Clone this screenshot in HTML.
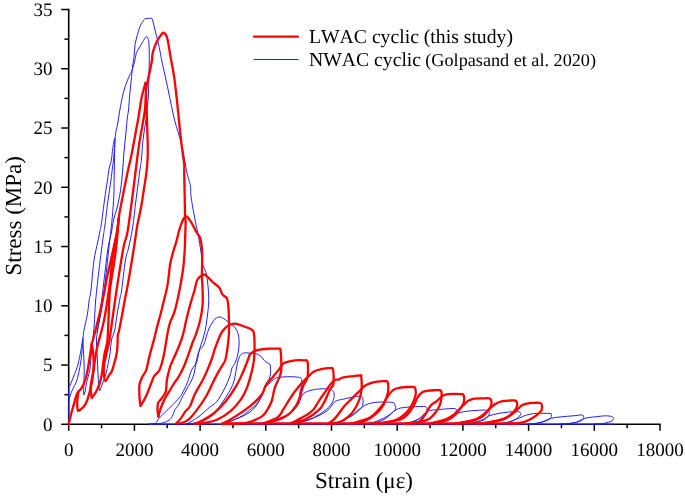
<!DOCTYPE html>
<html><head><meta charset="utf-8"><style>
html,body{margin:0;padding:0;background:#fff;}
svg{display:block;will-change:transform;}
text{font-kerning:none;text-rendering:geometricPrecision;}
.t{font-family:"Liberation Serif",serif;font-size:19px;fill:#000;}
.ax{font-family:"Liberation Serif",serif;font-size:23px;fill:#000;}
.lg{font-family:"Liberation Serif",serif;font-size:19.7px;fill:#000;}
</style></head><body>
<svg width="685" height="496" viewBox="0 0 685 496">
<line x1="68.70" y1="8.80" x2="68.70" y2="425.10" stroke="#000" stroke-width="1.6"/>
<line x1="67.90" y1="424.30" x2="660.70" y2="424.30" stroke="#000" stroke-width="1.6"/>
<line x1="61.20" y1="424.30" x2="68.70" y2="424.30" stroke="#000" stroke-width="1.5"/>
<text x="52.6" y="430.70" text-anchor="end" class="t">0</text>
<line x1="64.40" y1="394.67" x2="68.70" y2="394.67" stroke="#000" stroke-width="1.5"/>
<line x1="61.20" y1="365.04" x2="68.70" y2="365.04" stroke="#000" stroke-width="1.5"/>
<text x="52.6" y="371.44" text-anchor="end" class="t">5</text>
<line x1="64.40" y1="335.41" x2="68.70" y2="335.41" stroke="#000" stroke-width="1.5"/>
<line x1="61.20" y1="305.79" x2="68.70" y2="305.79" stroke="#000" stroke-width="1.5"/>
<text x="52.6" y="312.19" text-anchor="end" class="t">10</text>
<line x1="64.40" y1="276.16" x2="68.70" y2="276.16" stroke="#000" stroke-width="1.5"/>
<line x1="61.20" y1="246.53" x2="68.70" y2="246.53" stroke="#000" stroke-width="1.5"/>
<text x="52.6" y="252.93" text-anchor="end" class="t">15</text>
<line x1="64.40" y1="216.90" x2="68.70" y2="216.90" stroke="#000" stroke-width="1.5"/>
<line x1="61.20" y1="187.27" x2="68.70" y2="187.27" stroke="#000" stroke-width="1.5"/>
<text x="52.6" y="193.67" text-anchor="end" class="t">20</text>
<line x1="64.40" y1="157.64" x2="68.70" y2="157.64" stroke="#000" stroke-width="1.5"/>
<line x1="61.20" y1="128.01" x2="68.70" y2="128.01" stroke="#000" stroke-width="1.5"/>
<text x="52.6" y="134.41" text-anchor="end" class="t">25</text>
<line x1="64.40" y1="98.39" x2="68.70" y2="98.39" stroke="#000" stroke-width="1.5"/>
<line x1="61.20" y1="68.76" x2="68.70" y2="68.76" stroke="#000" stroke-width="1.5"/>
<text x="52.6" y="75.16" text-anchor="end" class="t">30</text>
<line x1="64.40" y1="39.13" x2="68.70" y2="39.13" stroke="#000" stroke-width="1.5"/>
<line x1="61.20" y1="9.50" x2="68.70" y2="9.50" stroke="#000" stroke-width="1.5"/>
<text x="52.6" y="15.90" text-anchor="end" class="t">35</text>
<line x1="68.70" y1="424.30" x2="68.70" y2="430.80" stroke="#000" stroke-width="1.5"/>
<text x="68.70" y="455.7" text-anchor="middle" class="t">0</text>
<line x1="101.55" y1="424.30" x2="101.55" y2="428.30" stroke="#000" stroke-width="1.5"/>
<line x1="134.40" y1="424.30" x2="134.40" y2="430.80" stroke="#000" stroke-width="1.5"/>
<text x="134.40" y="455.7" text-anchor="middle" class="t">2000</text>
<line x1="167.25" y1="424.30" x2="167.25" y2="428.30" stroke="#000" stroke-width="1.5"/>
<line x1="200.10" y1="424.30" x2="200.10" y2="430.80" stroke="#000" stroke-width="1.5"/>
<text x="200.10" y="455.7" text-anchor="middle" class="t">4000</text>
<line x1="232.95" y1="424.30" x2="232.95" y2="428.30" stroke="#000" stroke-width="1.5"/>
<line x1="265.80" y1="424.30" x2="265.80" y2="430.80" stroke="#000" stroke-width="1.5"/>
<text x="265.80" y="455.7" text-anchor="middle" class="t">6000</text>
<line x1="298.65" y1="424.30" x2="298.65" y2="428.30" stroke="#000" stroke-width="1.5"/>
<line x1="331.50" y1="424.30" x2="331.50" y2="430.80" stroke="#000" stroke-width="1.5"/>
<text x="331.50" y="455.7" text-anchor="middle" class="t">8000</text>
<line x1="364.35" y1="424.30" x2="364.35" y2="428.30" stroke="#000" stroke-width="1.5"/>
<line x1="397.20" y1="424.30" x2="397.20" y2="430.80" stroke="#000" stroke-width="1.5"/>
<text x="397.20" y="455.7" text-anchor="middle" class="t">10000</text>
<line x1="430.05" y1="424.30" x2="430.05" y2="428.30" stroke="#000" stroke-width="1.5"/>
<line x1="462.90" y1="424.30" x2="462.90" y2="430.80" stroke="#000" stroke-width="1.5"/>
<text x="462.90" y="455.7" text-anchor="middle" class="t">12000</text>
<line x1="495.75" y1="424.30" x2="495.75" y2="428.30" stroke="#000" stroke-width="1.5"/>
<line x1="528.60" y1="424.30" x2="528.60" y2="430.80" stroke="#000" stroke-width="1.5"/>
<text x="528.60" y="455.7" text-anchor="middle" class="t">14000</text>
<line x1="561.45" y1="424.30" x2="561.45" y2="428.30" stroke="#000" stroke-width="1.5"/>
<line x1="594.30" y1="424.30" x2="594.30" y2="430.80" stroke="#000" stroke-width="1.5"/>
<text x="594.30" y="455.7" text-anchor="middle" class="t">16000</text>
<line x1="627.15" y1="424.30" x2="627.15" y2="428.30" stroke="#000" stroke-width="1.5"/>
<line x1="660.00" y1="424.30" x2="660.00" y2="430.80" stroke="#000" stroke-width="1.5"/>
<text x="660.00" y="455.7" text-anchor="middle" class="t">18000</text>
<text x="364" y="487.7" text-anchor="middle" class="ax">Strain (&#956;&#949;)</text>
<text transform="translate(20.6,215.8) rotate(-90)" x="0" y="0" text-anchor="middle" class="ax">Stress (MPa)</text>
<line x1="254.0" y1="36.7" x2="298.0" y2="36.7" stroke="#f00" stroke-width="2.3" stroke-linecap="round"/>
<line x1="253.5" y1="59.5" x2="298.6" y2="59.5" stroke="#2020f4" stroke-width="1"/>
<text x="309" y="43.4" class="lg">LWAC cyclic (this study)</text>
<text x="309" y="65.6" class="lg">NWAC cyclic <tspan x="425.3" font-size="18.2px">(Golpasand et al. 2020)</tspan></text>
<g fill="none" stroke="#2020f4" stroke-width="1.0" stroke-linejoin="round" stroke-linecap="round">
<path d="M68.7,424.3 C68.7,421.1 68.8,411.0 68.8,405.0 C68.8,399.0 68.6,391.6 68.8,388.4 C69.0,385.1 69.3,387.2 70.0,385.5 C70.7,383.8 72.0,380.5 73.0,378.0 C74.0,375.5 75.2,372.9 76.1,370.4 C77.0,367.9 77.5,365.8 78.3,362.8 C79.0,359.8 80.0,355.5 80.6,352.2 C81.2,348.9 81.7,345.3 82.1,343.0 C82.5,340.7 82.7,340.3 82.9,338.6 C83.2,336.9 83.2,334.9 83.6,332.6 C84.0,330.3 84.4,328.3 85.1,325.0 C85.8,321.7 86.9,317.2 87.6,313.0 C88.3,308.8 88.6,303.8 89.2,300.0 C89.8,296.2 90.2,296.5 91.0,290.0 C91.8,283.5 92.8,268.8 93.9,261.0 C95.0,253.2 96.5,247.8 97.5,243.0 C98.5,238.2 99.2,235.0 99.8,232.0 C100.4,229.0 100.4,230.3 101.2,225.0 C102.0,219.7 103.5,207.5 104.5,200.0 C105.5,192.5 106.7,185.3 107.5,180.0 C108.3,174.7 108.5,171.3 109.2,168.0 C109.9,164.7 110.8,163.2 111.4,160.0 C112.0,156.8 112.1,152.2 112.7,148.6 C113.3,144.9 114.5,137.9 114.8,138.1 C115.1,138.3 114.7,145.5 114.6,150.0 C114.5,154.5 114.5,160.0 114.4,165.0 C114.3,170.0 114.2,175.0 114.1,180.0 C114.0,185.0 114.2,188.3 113.9,195.0 C113.6,201.7 112.7,212.5 112.0,220.0 C111.3,227.5 110.7,231.7 109.8,240.0 C108.9,248.3 107.6,260.0 106.5,270.0 C105.4,280.0 104.2,292.0 103.1,300.0 C102.0,308.0 101.0,312.7 100.0,318.0 C99.0,323.3 97.5,329.7 97.0,332.0"/>
<path d="M68.8,401.1 C69.0,400.2 69.3,398.1 70.0,396.0 C70.7,393.9 72.0,390.8 73.0,388.5 C74.0,386.2 75.2,384.8 76.1,382.5 C77.0,380.2 77.7,377.5 78.3,375.0 C78.9,372.5 79.3,370.2 79.8,367.4 C80.3,364.6 80.9,361.5 81.3,358.3 C81.7,355.1 81.9,351.3 82.2,348.0 C82.5,344.7 82.8,340.2 82.9,338.6"/>
<path d="M82.9,338.6 C83.0,340.5 83.2,346.1 83.4,350.0 C83.6,353.9 83.9,358.3 84.0,362.0 C84.1,365.7 84.2,368.2 84.2,372.0 C84.2,375.8 84.0,381.2 83.9,385.0 C83.8,388.8 83.4,393.5 83.6,394.6 C83.8,395.7 84.6,393.6 85.1,391.6 C85.6,389.6 85.8,386.0 86.6,382.5 C87.4,379.0 88.9,374.9 89.7,370.4 C90.5,365.9 90.7,360.4 91.2,355.3 C91.7,350.2 92.2,345.2 92.7,340.1 C93.2,335.1 93.7,331.7 94.2,325.0 C94.7,318.3 94.9,309.2 95.7,300.0 C96.5,290.8 98.0,278.3 99.0,270.0 C100.0,261.7 100.8,255.8 101.5,250.0 C102.2,244.2 102.9,239.2 103.5,235.0 C104.1,230.8 104.2,230.8 105.0,225.0 C105.8,219.2 107.0,207.5 108.0,200.0 C109.0,192.5 110.3,185.3 111.0,180.0 C111.7,174.7 112.0,171.3 112.4,168.0 C112.8,164.7 113.2,163.3 113.5,160.0 C113.8,156.7 114.2,152.4 114.5,148.0 C114.8,143.6 115.1,137.2 115.6,133.4 C116.1,129.6 116.7,129.0 117.4,125.2 C118.1,121.4 119.0,114.8 119.7,110.8 C120.4,106.8 120.9,104.0 121.5,101.0 C122.1,98.0 122.7,95.3 123.4,92.7 C124.1,90.1 124.7,87.8 125.5,85.5 C126.3,83.2 127.2,80.8 128.0,79.0 C128.8,77.2 129.3,76.0 130.0,74.5 C130.7,73.0 131.4,72.1 132.2,70.0 C132.9,67.9 133.8,64.8 134.5,62.0 C135.2,59.2 135.6,55.6 136.3,53.4 C137.0,51.2 137.8,50.4 138.5,49.0 C139.2,47.6 140.0,46.5 140.8,45.1 C141.6,43.7 142.6,41.9 143.5,40.5 C144.4,39.1 145.7,36.8 146.4,36.5 C147.2,36.2 147.6,37.5 148.0,38.5 C148.4,39.5 148.7,39.5 148.9,42.7 C149.1,45.9 149.3,52.7 149.3,57.6 C149.3,62.5 149.2,65.8 149.0,72.0 C148.8,78.2 148.7,89.3 148.4,95.1 C148.1,100.9 147.7,102.8 147.3,106.8 C146.9,110.8 146.7,114.0 146.0,119.4 C145.3,124.8 143.9,132.4 143.1,139.2 C142.3,146.0 141.9,155.2 141.4,160.0 C140.9,164.8 141.1,161.3 140.2,168.0 C139.3,174.7 137.3,190.0 136.0,200.0 C134.7,210.0 133.8,220.0 132.6,228.0 C131.3,236.0 129.7,242.5 128.5,248.0 C127.3,253.5 126.4,254.0 125.3,261.0 C124.2,268.0 122.5,284.0 121.7,290.0 C120.9,296.0 121.0,292.8 120.2,297.0 C119.4,301.2 117.9,309.5 117.0,315.0 C116.1,320.5 115.7,325.8 114.8,330.0 C113.9,334.2 112.3,336.1 111.5,340.0 C110.7,343.9 110.6,349.2 110.1,353.1 C109.5,357.0 108.8,360.3 108.2,363.6 C107.6,366.9 106.9,370.2 106.2,372.8 C105.5,375.4 105.0,377.1 104.2,379.3 C103.4,381.5 102.3,384.0 101.6,385.9 C100.8,387.8 100.2,391.6 99.7,390.5 C99.2,389.4 98.6,383.4 98.3,379.3 C98.0,375.2 97.9,370.6 97.7,366.2 C97.5,361.8 97.2,357.5 97.0,353.1 C96.8,348.7 96.3,343.9 96.4,340.0 C96.5,336.1 97.0,335.0 97.7,330.0 C98.4,325.0 99.5,317.5 100.5,310.0 C101.5,302.5 102.5,293.2 103.5,285.0 C104.5,276.8 105.5,267.7 106.3,261.0 C107.1,254.3 107.6,249.8 108.5,245.0 C109.4,240.2 110.7,236.2 111.5,232.0 C112.3,227.8 112.7,223.7 113.5,220.0 C114.3,216.3 115.6,213.3 116.5,210.0 C117.4,206.7 118.1,203.3 118.8,200.0 C119.5,196.7 120.0,194.1 120.5,190.4 C121.0,186.7 121.6,182.1 122.0,178.0 C122.4,173.9 122.7,170.0 123.0,166.0 C123.3,162.0 123.5,158.0 123.8,154.0 C124.1,150.0 124.6,146.0 125.0,142.0 C125.4,138.0 125.8,134.0 126.2,130.0 C126.6,126.0 126.9,121.3 127.3,118.0 C127.7,114.7 128.1,113.8 128.5,110.0 C128.9,106.2 129.2,100.5 129.7,95.1 C130.2,89.7 131.0,82.3 131.5,77.5 C132.0,72.7 132.2,69.5 132.6,66.0 C133.0,62.5 133.7,60.0 134.1,56.4 C134.5,52.8 134.5,48.0 135.1,44.3 C135.7,40.6 136.8,37.2 137.6,34.2 C138.4,31.2 139.3,28.2 140.2,26.1 C141.0,24.0 141.9,22.8 142.7,21.6 C143.4,20.4 144.0,19.6 144.7,19.1 C145.4,18.6 146.1,18.5 147.0,18.4 C147.9,18.3 149.2,18.3 150.0,18.3 C150.8,18.3 151.4,18.2 151.8,18.4 C152.2,18.6 152.0,18.1 152.4,19.5 C152.8,20.9 153.7,24.5 154.3,27.1 C155.0,29.7 155.6,32.2 156.3,35.2 C157.1,38.2 158.1,42.2 158.8,45.3 C159.5,48.4 160.1,51.8 160.5,54.0 C160.9,56.2 160.7,55.4 161.3,58.4 C161.9,61.4 163.0,66.1 164.2,71.7 C165.4,77.3 166.9,83.9 168.6,92.0 C170.3,100.1 172.4,111.3 174.6,120.1 C176.8,128.9 179.6,135.9 181.6,144.6 C183.6,153.2 185.3,165.1 186.8,172.0 C188.3,178.9 189.7,181.5 190.4,185.8 C191.1,190.2 190.3,192.0 191.2,198.1 C192.1,204.2 194.4,216.5 195.6,222.6 C196.8,228.7 197.3,230.0 198.2,234.9 C199.1,239.8 200.3,247.2 201.0,252.0 C201.7,256.9 201.8,260.5 202.6,264.0 C203.4,267.5 205.2,269.3 206.1,272.8 C207.0,276.3 207.4,280.7 207.9,285.1 C208.4,289.5 208.8,294.7 208.8,299.1 C208.8,303.5 208.4,307.0 207.9,311.4 C207.4,315.8 206.8,321.1 206.1,325.4 C205.4,329.7 204.7,332.7 203.5,337.0 C202.3,341.3 200.1,346.8 199.0,351.0 C197.9,355.2 198.0,358.9 196.8,362.0 C195.6,365.1 193.3,366.2 191.7,369.7 C190.1,373.2 189.0,378.7 187.3,382.8 C185.6,386.9 183.4,391.4 181.5,394.5 C179.6,397.6 178.5,398.6 176.0,401.4 C173.5,404.2 169.1,408.3 166.3,411.1 C163.5,413.9 160.8,416.4 159.0,418.4 C157.2,420.4 157.0,422.3 155.4,423.2 C153.8,424.1 150.3,423.9 149.3,424.0"/>
<path d="M149.3,424.0 C151.3,423.9 158.0,423.9 161.4,423.2 C164.8,422.5 167.9,421.2 169.9,419.6 C171.9,418.0 172.7,415.1 173.5,413.5 C174.3,411.9 173.9,411.3 174.7,409.9 C175.5,408.5 177.0,407.5 178.4,405.1 C179.8,402.7 181.6,398.4 183.2,395.4 C184.8,392.4 186.6,389.5 188.0,386.9 C189.4,384.3 190.6,382.5 191.7,380.0 C192.8,377.5 193.8,375.0 194.5,372.0 C195.2,369.0 195.3,365.4 196.1,362.0 C196.8,358.6 197.8,354.1 199.0,351.3 C200.2,348.6 202.2,347.9 203.4,345.5 C204.6,343.1 205.3,339.6 206.3,336.7 C207.3,333.8 207.8,330.9 209.2,328.0 C210.6,325.1 213.2,321.0 215.0,319.2 C216.8,317.4 218.2,316.8 220.1,317.0 C222.0,317.2 224.4,319.1 226.7,320.7 C229.0,322.3 232.2,324.6 234.0,326.5 C235.8,328.4 236.8,329.9 237.7,332.3 C238.5,334.7 239.0,337.9 239.1,341.1 C239.2,344.3 239.0,347.8 238.4,351.3 C237.8,354.8 236.6,359.2 235.5,362.0 C234.4,364.8 233.0,365.5 232.0,368.0 C231.0,370.5 231.0,373.3 229.6,377.0 C228.2,380.7 226.0,386.0 223.8,390.1 C221.6,394.2 218.9,398.9 216.5,401.8 C214.1,404.7 212.1,405.2 209.2,407.6 C206.3,410.0 202.2,414.0 199.0,416.4 C195.8,418.8 192.4,420.9 190.2,422.2 C188.0,423.5 186.5,423.7 185.8,424.0"/>
<path d="M185.8,424.0 C187.3,423.8 192.1,423.5 195.0,423.0 C197.9,422.5 200.5,422.0 203.0,421.0 C205.5,420.0 207.8,418.7 210.0,417.0 C212.2,415.3 214.0,413.3 216.0,411.0 C218.0,408.7 219.8,406.2 222.0,403.0 C224.2,399.8 227.0,395.7 229.0,392.0 C231.0,388.3 232.6,386.0 234.0,381.0 C235.4,376.0 236.5,366.5 237.7,362.0 C238.9,357.5 239.9,355.7 241.3,354.2 C242.8,352.7 244.6,352.9 246.4,352.8 C248.2,352.7 250.2,353.3 252.0,353.5 C253.8,353.7 255.8,353.6 257.4,354.2 C259.0,354.8 260.6,356.1 261.8,357.2 C263.0,358.3 263.5,359.8 264.4,360.7 C265.3,361.6 266.3,362.1 267.3,362.8 C268.3,363.5 269.7,363.2 270.2,365.0 C270.7,366.8 270.7,371.4 270.5,373.8 C270.3,376.2 269.6,377.9 268.8,379.6 C268.0,381.3 266.7,382.3 265.8,384.0 C264.9,385.7 264.3,387.9 263.6,389.9 C262.9,391.9 263.1,393.5 261.8,396.0 C260.5,398.5 258.3,402.0 255.9,404.7 C253.5,407.4 249.6,410.1 247.2,412.0 C244.8,413.9 244.0,414.9 241.3,416.4 C238.6,417.9 234.0,419.5 231.1,420.8 C228.2,422.1 225.0,423.5 223.8,424.0"/>
<path d="M223.8,424.0 C225.8,423.2 231.1,421.3 235.5,419.3 C239.9,417.3 246.2,414.9 250.1,412.0 C254.0,409.1 256.4,405.7 258.8,401.8 C261.2,397.9 263.0,391.7 264.7,388.7 C266.4,385.7 267.1,385.6 268.8,384.0 C270.5,382.4 272.9,380.0 274.6,378.9 C276.3,377.8 276.6,377.8 279.0,377.4 C281.4,377.0 285.8,376.7 289.2,376.7 C292.6,376.7 297.3,376.9 299.4,377.4 C301.5,377.9 301.2,378.2 301.6,379.6 C302.0,381.0 301.9,383.6 301.6,385.5 C301.4,387.4 300.6,388.9 300.1,391.3 C299.6,393.7 299.6,397.1 298.6,399.9 C297.6,402.7 295.5,405.7 293.9,408.0 C292.3,410.3 291.5,412.2 289.2,413.9 C286.9,415.6 283.1,416.7 279.9,418.0 C276.7,419.3 273.0,420.5 270.0,421.5 C267.0,422.5 263.3,423.6 262.0,424.0"/>
<path d="M262.0,424.0 C263.3,423.8 267.0,423.2 270.0,422.5 C273.0,421.8 276.7,420.8 279.9,419.5 C283.1,418.2 286.8,416.1 289.2,414.5 C291.6,412.9 292.4,411.8 294.0,410.0 C295.6,408.2 297.1,406.7 298.6,404.0 C300.1,401.3 300.9,396.4 303.2,394.0 C305.5,391.6 308.9,390.8 312.6,389.9 C316.3,389.0 322.1,388.7 325.4,388.8 C328.7,388.9 330.9,389.4 332.4,390.5 C333.9,391.6 334.2,393.2 334.2,395.2 C334.2,397.1 333.7,399.9 332.4,402.2 C331.1,404.5 328.9,407.1 326.6,409.2 C324.3,411.3 321.3,413.2 318.4,415.0 C315.5,416.8 312.4,418.4 309.1,419.7 C305.8,421.0 301.8,421.9 298.6,422.6 C295.4,423.3 291.4,423.8 290.0,424.0"/>
<path d="M290.0,424.0 C292.5,423.5 300.3,422.3 305.0,421.0 C309.7,419.7 314.2,417.8 318.0,416.0 C321.8,414.2 325.2,412.4 328.0,410.0 C330.8,407.6 332.6,403.4 335.0,401.6 C337.4,399.8 339.9,400.0 342.3,399.4 C344.7,398.8 346.9,398.2 349.6,397.7 C352.3,397.2 356.3,396.4 358.4,396.2 C360.5,396.0 361.2,396.0 362.0,396.5 C362.8,397.0 362.9,397.9 363.0,399.4 C363.1,400.9 363.2,403.6 362.7,405.3 C362.2,407.0 361.5,407.9 359.8,409.6 C358.1,411.3 355.2,413.8 352.5,415.5 C349.8,417.2 346.2,418.7 343.8,419.9 C341.4,421.1 340.2,422.1 337.9,422.8 C335.6,423.5 331.3,423.8 330.0,424.0"/>
<path d="M337.9,422.8 C339.8,421.8 346.4,418.8 349.6,416.9 C352.8,414.9 354.7,412.8 356.9,411.1 C359.1,409.4 360.8,407.9 362.7,406.7 C364.6,405.5 366.4,404.5 368.6,403.8 C370.8,403.1 373.2,402.6 375.9,402.3 C378.6,402.0 381.7,401.9 384.6,402.0 C387.5,402.1 391.7,402.1 393.4,402.6 C395.1,403.2 394.5,404.2 394.9,405.3 C395.3,406.4 396.3,407.4 395.6,408.9 C394.9,410.3 392.6,412.4 390.5,414.0 C388.4,415.6 385.9,417.1 383.2,418.4 C380.5,419.7 377.3,421.1 374.4,422.0 C371.5,422.9 367.4,423.7 366.0,424.0"/>
<path d="M374.4,423.0 C376.2,422.3 381.4,421.2 385.0,419.0 C388.6,416.8 392.9,411.5 396.3,409.6 C399.7,407.7 401.9,407.9 405.1,407.4 C408.3,406.9 411.9,406.8 415.3,406.7 C418.7,406.6 423.6,406.2 425.5,406.7 C427.4,407.2 427.0,408.6 427.0,409.6 C427.0,410.6 426.7,411.1 425.5,412.6 C424.3,414.1 422.1,416.8 419.7,418.4 C417.3,420.0 413.8,421.1 410.9,422.0 C407.9,422.9 403.5,423.7 402.0,424.0"/>
<path d="M410.0,423.2 C411.7,422.3 417.2,419.9 420.0,418.0 C422.8,416.1 424.9,413.1 427.0,411.8 C429.1,410.5 429.7,410.6 432.3,410.2 C434.9,409.8 438.9,409.5 442.5,409.2 C446.1,408.9 451.9,408.4 454.2,408.5 C456.5,408.6 456.1,409.4 456.4,410.0 C456.6,410.6 456.5,410.9 455.7,412.1 C454.9,413.3 453.2,415.8 451.3,417.3 C449.4,418.8 446.4,420.0 444.0,420.9 C441.6,421.8 439.4,422.3 436.7,422.8 C434.0,423.3 429.4,423.8 428.0,424.0"/>
<path d="M436.7,423.5 C438.2,423.0 443.6,421.3 446.0,420.5 C448.4,419.7 449.4,419.8 451.3,418.7 C453.2,417.6 454.7,414.8 457.1,413.6 C459.5,412.4 462.7,411.9 465.9,411.4 C469.1,410.9 472.7,410.6 476.1,410.4 C479.5,410.2 484.1,409.9 486.3,410.2 C488.5,410.5 488.8,411.2 489.2,412.1 C489.6,413.0 489.5,414.5 488.5,415.8 C487.5,417.1 485.9,419.1 483.4,420.2 C480.8,421.3 476.4,421.8 473.2,422.4 C470.0,423.0 465.5,423.7 464.0,424.0"/>
<path d="M473.2,423.2 C474.8,422.6 480.3,420.7 483.0,419.5 C485.7,418.3 486.7,416.8 489.2,415.8 C491.7,414.8 494.8,414.2 498.0,413.6 C501.2,413.0 504.8,412.4 508.2,412.1 C511.6,411.8 516.3,411.4 518.4,411.7 C520.5,411.9 520.4,412.9 520.6,413.6 C520.9,414.3 521.0,414.7 519.9,415.8 C518.8,416.9 516.5,419.0 514.1,420.2 C511.7,421.4 508.3,422.2 505.3,422.8 C502.3,423.4 497.6,423.8 496.0,424.0"/>
<path d="M505.3,423.3 C506.6,422.8 510.6,421.4 513.0,420.5 C515.4,419.6 517.1,418.9 519.4,418.0 C521.7,417.1 523.8,415.8 526.7,415.0 C529.6,414.2 533.0,413.5 536.9,413.3 C540.8,413.1 547.6,413.3 550.0,413.6 C552.4,413.9 551.5,414.1 551.5,415.0 C551.5,415.9 551.2,417.6 550.0,418.7 C548.8,419.8 546.4,420.9 544.2,421.6 C542.0,422.3 539.6,422.7 536.9,423.1 C534.2,423.5 529.5,423.9 528.0,424.0"/>
<path d="M536.9,423.5 C537.9,423.2 540.3,422.5 542.7,421.6 C545.1,420.7 548.3,419.0 551.5,418.2 C554.7,417.4 558.1,417.2 561.7,416.8 C565.4,416.4 570.0,416.1 573.4,415.8 C576.8,415.5 580.5,414.8 582.2,415.0 C583.9,415.2 583.6,416.3 583.6,417.2 C583.6,418.1 583.4,419.2 582.2,420.1 C581.0,421.0 578.5,421.8 576.3,422.3 C574.1,422.9 571.7,423.1 569.0,423.4 C566.3,423.7 561.5,423.9 560.0,424.0"/>
<path d="M569.0,423.6 C570.2,423.4 573.6,423.2 576.3,422.3 C579.0,421.4 581.9,419.1 585.1,418.2 C588.3,417.3 591.9,417.2 595.3,416.8 C598.7,416.4 602.8,415.9 605.5,415.8 C608.2,415.8 610.1,416.1 611.4,416.5 C612.7,416.9 613.4,417.5 613.5,418.2 C613.6,418.9 613.2,420.2 612.1,420.9 C611.0,421.6 608.6,422.2 607.0,422.6 C605.4,423.0 604.8,423.3 602.6,423.5 C600.4,423.7 595.4,423.9 594.0,424.0"/>
<path d="M149.3,424.2 L614.0,424.2"/>
</g>
<g fill="none" stroke="#ff0000" stroke-width="2.3" stroke-linejoin="round" stroke-linecap="round">
<path d="M68.7,424.3 C69.1,422.5 70.3,417.1 71.3,413.3 C72.3,409.5 73.8,404.4 74.7,401.3 C75.6,398.2 76.0,396.4 76.7,394.7 C77.4,393.0 78.0,392.2 78.7,391.3 C79.4,390.4 79.9,390.4 80.7,389.3 C81.5,388.2 82.4,386.7 83.3,384.7 C84.2,382.7 85.2,380.1 86.0,377.3 C86.8,374.5 87.5,370.9 88.0,368.0 C88.5,365.1 88.9,362.7 89.3,360.0 C89.7,357.3 90.1,354.7 90.5,352.0 C90.9,349.3 91.5,345.3 91.7,344.0"/>
<path d="M78.4,392.0 C78.2,393.3 77.6,397.6 77.4,400.0 C77.2,402.4 77.2,404.9 77.3,406.7 C77.4,408.5 77.4,410.3 78.0,410.7 C78.6,411.1 79.6,410.2 80.7,409.3 C81.8,408.4 83.6,406.9 84.7,405.3 C85.8,403.8 86.5,402.0 87.3,400.0 C88.1,398.0 88.6,395.8 89.3,393.3 C90.0,390.9 90.7,388.0 91.3,385.3 C91.9,382.6 92.3,380.2 92.7,377.3 C93.1,374.4 93.4,371.2 93.6,368.0 C93.8,364.8 93.7,361.0 93.6,358.0 C93.5,355.0 93.1,352.3 92.8,350.0 C92.5,347.7 91.9,345.0 91.7,344.0"/>
<path d="M91.7,344.0 C92.1,342.7 93.1,339.3 94.0,336.0 C94.9,332.7 96.0,328.0 97.0,324.0 C98.0,320.0 99.1,316.0 100.0,312.0 C100.9,308.0 101.8,303.7 102.6,300.0 C103.4,296.3 103.9,294.2 104.7,290.0 C105.5,285.8 106.5,279.8 107.5,275.0 C108.5,270.2 109.6,265.8 110.7,261.0 C111.8,256.2 113.0,250.8 114.0,246.0 C115.0,241.2 116.2,236.6 117.0,232.0 C117.8,227.4 118.4,220.7 118.7,218.4"/>
<path d="M118.7,218.4 C118.5,220.7 117.9,227.4 117.2,232.0 C116.5,236.6 115.6,241.2 114.8,246.0 C114.0,250.8 113.0,255.3 112.2,261.0 C111.4,266.7 111.0,273.5 110.2,280.0 C109.4,286.5 108.5,293.7 107.5,300.0 C106.5,306.3 105.5,312.8 104.5,318.0 C103.5,323.2 102.5,327.2 101.5,331.0 C100.5,334.8 99.6,337.8 98.8,341.0 C98.0,344.2 97.2,347.2 96.6,350.0 C96.0,352.8 95.6,355.5 95.2,358.0 C94.8,360.5 94.6,362.7 94.3,365.0 C94.0,367.3 93.7,369.5 93.2,372.0 C92.8,374.5 92.0,377.3 91.6,380.0 C91.2,382.7 90.6,385.1 90.6,388.0 C90.6,390.9 91.6,396.1 91.8,397.7"/>
<path d="M91.8,397.7 C92.5,396.8 94.4,394.8 95.7,392.4 C97.0,390.0 98.7,386.1 99.7,383.3 C100.7,380.5 101.1,378.2 101.6,375.4 C102.1,372.5 102.5,369.5 102.9,366.2 C103.3,362.9 103.7,359.0 104.2,355.7 C104.8,352.4 105.7,349.2 106.2,346.6 C106.8,344.0 107.1,344.4 107.5,340.0 C107.9,335.6 108.1,328.3 108.5,320.0 C108.9,311.7 109.0,299.8 110.0,290.0 C111.0,280.2 113.2,269.3 114.4,261.0 C115.6,252.7 116.3,247.1 117.0,240.0 C117.7,232.9 117.9,225.1 118.7,218.4 C119.5,211.7 120.8,206.4 122.0,200.0 C123.2,193.6 124.9,185.3 126.0,180.0 C127.1,174.7 127.8,171.3 128.5,168.0 C129.2,164.7 129.7,163.5 130.4,160.0 C131.2,156.5 132.2,151.4 133.0,147.0 C133.8,142.6 134.7,137.9 135.5,133.4 C136.3,128.9 137.3,123.9 138.0,120.0 C138.7,116.1 139.0,113.6 139.6,110.0 C140.2,106.4 140.8,101.9 141.4,98.6 C142.1,95.3 142.8,92.6 143.5,90.0 C144.2,87.4 145.2,84.0 145.5,82.8"/>
<path d="M145.5,82.8 C145.6,84.8 145.9,90.6 146.1,95.1 C146.3,99.6 146.4,104.2 146.6,110.0 C146.8,115.8 147.1,123.3 147.3,130.0 C147.5,136.7 147.8,144.2 147.8,150.0 C147.8,155.8 147.6,160.3 147.2,165.0 C146.8,169.7 146.2,174.1 145.6,178.3 C145.0,182.5 144.4,186.0 143.8,190.0 C143.2,194.0 142.6,198.3 141.9,202.5 C141.2,206.7 140.3,211.0 139.5,215.0 C138.7,219.0 137.9,221.6 137.1,226.6 C136.2,231.6 135.3,239.3 134.4,245.0 C133.5,250.7 132.6,256.0 131.8,261.0 C131.0,266.0 130.3,270.5 129.5,275.0 C128.7,279.5 128.0,283.8 127.2,288.0 C126.4,292.2 125.8,295.0 124.8,300.0 C123.8,305.0 122.5,312.7 121.5,318.0 C120.5,323.3 119.4,329.2 118.8,332.0 C118.2,334.8 118.0,332.5 117.8,335.0 C117.6,337.5 117.7,343.6 117.4,347.1 C117.1,350.6 116.8,353.2 116.2,356.0 C115.7,358.8 114.8,361.2 114.1,363.7 C113.4,366.2 112.8,369.1 111.9,371.0 C111.1,372.9 110.1,373.6 109.0,375.3 C107.9,377.0 106.2,381.3 105.4,381.1 C104.6,380.9 104.1,376.5 103.9,373.9 C103.7,371.2 103.8,367.8 104.1,365.2 C104.4,362.6 104.9,360.7 105.5,358.0 C106.1,355.3 106.8,352.0 107.5,349.0 C108.2,346.0 108.6,345.7 109.5,340.0 C110.4,334.3 111.8,323.3 113.0,315.0 C114.2,306.7 115.3,298.3 116.6,290.0 C117.8,281.7 119.3,272.5 120.5,265.0 C121.7,257.5 122.8,250.5 124.0,245.0 C125.2,239.5 126.2,239.5 127.5,232.0 C128.8,224.5 130.4,212.0 132.0,200.0 C133.6,188.0 135.8,169.2 137.0,160.0 C138.2,150.8 138.2,150.5 139.0,145.1 C139.8,139.7 141.0,133.3 142.0,127.5 C143.0,121.7 144.2,116.2 144.9,110.0 C145.6,103.8 145.6,95.4 146.1,90.4 C146.6,85.4 147.2,83.4 147.9,79.9 C148.6,76.4 149.5,72.7 150.2,69.4 C150.9,66.1 151.6,62.8 152.0,60.0 C152.4,57.2 152.1,55.3 152.8,52.4 C153.5,49.5 155.1,45.3 156.3,42.7 C157.5,40.1 158.6,38.3 159.8,36.6 C161.0,34.9 162.3,33.0 163.3,32.7 C164.3,32.4 165.3,33.6 166.0,34.8 C166.7,36.0 167.0,36.6 167.7,40.1 C168.4,43.6 169.4,50.0 170.4,55.9 C171.4,61.8 173.0,69.2 173.9,75.2 C174.8,81.2 175.3,86.0 176.0,92.0 C176.7,98.0 177.3,103.7 178.1,111.3 C178.9,118.9 179.7,128.8 180.7,137.6 C181.7,146.4 183.6,158.6 184.2,164.0 C184.8,169.4 184.1,164.6 184.2,170.0 C184.3,175.4 184.5,188.7 184.7,196.3 C184.8,203.9 184.9,211.2 185.1,215.6 C185.2,220.0 185.6,218.5 185.6,222.6 C185.6,226.7 185.2,235.6 185.1,240.2 C184.9,244.8 185.0,245.4 184.7,250.0 C184.4,254.6 184.1,261.1 183.3,267.5 C182.5,273.9 181.2,281.3 179.8,288.6 C178.4,295.9 176.3,305.6 174.6,311.4 C172.9,317.2 171.0,319.5 169.8,323.3 C168.6,327.1 168.2,330.0 167.4,334.2 C166.6,338.4 165.7,344.7 165.0,348.7 C164.3,352.7 164.0,354.8 163.1,358.4 C162.2,361.9 161.0,367.1 159.5,370.0 C158.0,372.9 155.6,373.8 154.2,376.0 C152.8,378.2 152.4,380.3 151.2,383.3 C150.0,386.3 148.2,391.2 146.9,394.2 C145.6,397.2 144.4,399.5 143.3,401.4 C142.2,403.3 141.1,405.0 140.6,405.7"/>
<path d="M140.6,405.7 C140.4,404.8 139.9,403.6 139.7,400.2 C139.5,396.8 139.0,388.9 139.4,385.1 C139.8,381.3 141.0,379.8 142.1,377.3 C143.2,374.8 144.9,373.8 146.2,370.0 C147.5,366.2 148.6,359.5 149.8,354.7 C151.0,349.9 152.3,346.0 153.5,341.4 C154.7,336.8 155.9,331.5 157.1,326.9 C158.3,322.3 159.5,318.3 160.6,314.0 C161.7,309.7 162.7,305.8 163.8,301.0 C165.0,296.2 166.4,291.3 167.5,285.1 C168.6,278.9 169.2,269.9 170.2,264.0 C171.2,258.1 172.7,253.7 173.7,250.0 C174.7,246.3 175.4,245.0 176.3,241.9 C177.2,238.8 177.9,234.9 178.9,231.4 C179.9,227.9 181.3,223.4 182.5,220.9 C183.7,218.4 184.7,216.5 186.0,216.5 C187.3,216.5 188.7,218.3 190.4,220.9 C192.2,223.5 194.9,229.5 196.5,232.3 C198.1,235.1 199.1,235.0 200.0,237.5 C200.9,240.0 201.4,243.9 201.8,247.2 C202.2,250.4 202.3,252.4 202.3,257.0 C202.3,261.6 201.9,269.1 201.9,274.6 C201.9,280.1 202.5,285.0 202.6,290.0 C202.7,295.0 203.0,299.7 202.6,304.6 C202.2,309.5 201.5,314.3 200.4,319.2 C199.3,324.1 197.4,330.0 196.1,333.8 C194.8,337.6 194.1,338.5 192.8,342.0 C191.5,345.5 189.6,351.2 188.4,354.6 C187.2,358.0 186.5,360.1 185.5,362.5 C184.5,364.9 183.8,366.8 182.6,369.2 C181.4,371.6 180.0,374.6 178.5,377.0 C177.0,379.4 175.3,381.5 173.8,383.8 C172.3,386.1 171.0,388.6 169.5,391.0 C168.0,393.4 166.3,395.9 165.0,398.4 C163.7,400.9 162.6,403.6 161.6,406.0 C160.6,408.4 159.7,411.2 159.2,413.0 C158.7,414.8 158.5,416.0 158.4,416.6"/>
<path d="M158.4,416.6 C158.3,415.7 157.7,413.2 157.6,411.1 C157.5,409.0 157.4,405.7 157.8,403.9 C158.2,402.1 158.9,402.2 160.2,400.2 C161.5,398.2 164.6,395.2 165.7,391.8 C166.8,388.4 166.3,383.3 166.9,379.7 C167.5,376.1 168.5,372.6 169.2,370.0 C169.9,367.4 169.8,367.3 171.0,364.4 C172.2,361.4 174.7,356.3 176.4,352.3 C178.1,348.3 180.0,344.0 181.3,340.2 C182.6,336.4 183.6,332.3 184.3,329.3 C185.1,326.3 184.8,326.2 185.8,322.1 C186.8,318.0 188.7,310.0 190.2,304.6 C191.7,299.2 193.4,294.1 194.6,290.0 C195.8,285.9 195.9,282.4 197.4,279.8 C198.9,277.2 201.9,275.2 203.5,274.6 C205.1,274.0 205.4,275.0 207.0,276.3 C208.6,277.6 211.1,280.6 213.2,282.5 C215.3,284.4 217.9,285.7 219.4,287.7 C220.9,289.7 221.1,292.7 222.3,294.4 C223.5,296.1 225.7,296.3 226.7,298.0 C227.7,299.7 227.8,301.1 228.2,304.6 C228.6,308.1 228.8,314.3 228.9,319.2 C229.0,324.1 229.2,328.9 228.9,333.8 C228.7,338.7 228.0,344.0 227.4,348.4 C226.8,352.8 226.2,357.1 225.3,360.0 C224.4,362.9 223.2,363.9 222.0,366.0 C220.8,368.1 219.7,369.6 218.0,372.6 C216.3,375.7 214.0,380.4 212.1,384.3 C210.2,388.2 208.7,391.9 206.3,396.0 C203.9,400.1 200.4,405.2 197.5,409.1 C194.6,413.0 191.5,417.0 188.8,419.3 C186.1,421.6 183.5,422.4 181.5,423.0 C179.5,423.6 177.4,423.2 176.6,423.2"/>
<path d="M176.6,423.2 C177.3,422.4 179.3,420.4 180.8,418.4 C182.3,416.4 184.1,413.1 185.6,411.1 C187.1,409.1 188.5,409.1 190.0,406.3 C191.5,403.5 192.9,398.2 194.6,394.5 C196.3,390.8 198.4,387.9 200.4,384.3 C202.4,380.7 204.4,377.0 206.3,372.6 C208.2,368.2 210.7,362.0 212.1,358.0 C213.5,354.0 213.5,352.4 215.0,348.4 C216.5,344.4 219.2,337.2 220.9,333.8 C222.6,330.4 223.9,329.5 225.3,328.0 C226.8,326.5 227.9,325.7 229.6,325.0 C231.3,324.3 233.1,323.4 235.5,323.6 C237.9,323.9 241.5,325.5 244.2,326.5 C246.9,327.5 249.9,328.4 251.5,329.4 C253.1,330.4 253.2,330.4 253.7,332.3 C254.2,334.2 254.4,337.7 254.5,341.1 C254.6,344.5 254.6,349.3 254.5,352.8 C254.4,356.3 254.2,358.7 253.7,362.0 C253.2,365.3 252.6,368.4 251.5,372.6 C250.4,376.8 248.9,382.8 247.2,387.2 C245.5,391.6 244.0,395.0 241.3,398.9 C238.6,402.8 235.0,407.2 231.1,410.6 C227.2,414.0 222.4,417.2 218.0,419.3 C213.6,421.4 208.7,422.3 204.8,423.0 C200.9,423.7 196.3,423.6 194.6,423.7"/>
<path d="M194.6,423.7 C195.8,423.2 198.7,422.5 201.9,420.8 C205.1,419.1 209.7,416.7 213.6,413.5 C217.5,410.3 221.7,406.2 225.3,401.8 C229.0,397.4 232.6,392.1 235.5,387.2 C238.4,382.3 240.6,377.5 242.8,372.6 C245.0,367.7 247.4,361.1 248.6,358.0 C249.8,354.9 248.9,355.4 250.1,354.2 C251.3,353.0 253.7,351.5 255.9,350.6 C258.1,349.8 261.1,349.4 263.2,349.1 C265.3,348.8 266.2,348.8 268.8,348.7 C271.4,348.6 277.1,348.5 279.0,348.7 C280.9,348.9 280.0,347.9 280.4,349.7 C280.8,351.4 281.1,355.7 281.2,359.2 C281.3,362.7 281.6,367.7 281.2,370.9 C280.8,374.1 280.1,375.3 279.0,378.2 C277.9,381.1 275.8,384.6 274.6,388.4 C273.4,392.2 273.0,397.3 271.7,401.0 C270.4,404.7 268.6,407.9 267.0,410.4 C265.4,412.9 264.6,414.5 262.3,416.2 C260.0,417.9 256.2,419.6 253.0,420.8 C249.8,422.0 248.0,422.9 242.8,423.4 C237.6,423.9 225.5,423.9 222.0,424.0"/>
<path d="M222.0,424.0 C224.2,422.7 230.8,419.4 235.5,416.4 C240.2,413.4 245.7,409.8 250.1,406.2 C254.5,402.6 259.2,397.9 261.8,394.5 C264.4,391.1 263.9,388.5 265.8,385.5 C267.7,382.5 270.9,379.4 273.1,376.7 C275.3,374.0 277.4,371.5 279.0,369.4 C280.6,367.3 281.4,365.5 282.6,364.3 C283.8,363.1 284.2,362.8 286.3,362.1 C288.4,361.5 292.1,360.7 295.0,360.4 C297.9,360.1 301.7,360.2 303.8,360.4 C305.9,360.6 306.7,359.2 307.4,361.4 C308.1,363.6 308.0,370.8 307.9,373.8 C307.8,376.8 307.5,377.6 306.7,379.6 C305.9,381.6 304.4,382.8 303.2,385.8 C302.0,388.8 300.9,394.2 299.7,397.5 C298.5,400.8 297.9,403.0 296.2,405.7 C294.4,408.4 291.7,411.8 289.2,413.9 C286.7,416.0 283.9,417.3 281.0,418.6 C278.1,419.9 274.9,420.6 271.7,421.5 C268.5,422.4 263.6,423.4 262.0,423.8"/>
<path d="M262.0,423.8 C264.6,422.7 273.9,419.8 277.5,417.4 C281.1,415.0 281.4,412.1 283.4,409.2 C285.3,406.3 287.3,402.9 289.2,399.9 C291.1,396.9 292.8,394.2 295.0,391.3 C297.2,388.4 300.1,385.0 302.3,382.6 C304.5,380.2 306.2,378.5 308.2,376.7 C310.1,374.9 311.8,372.9 314.0,371.6 C316.2,370.3 318.6,369.7 321.3,369.1 C324.0,368.5 328.2,368.1 330.1,368.2 C332.1,368.2 332.4,367.2 333.0,369.4 C333.6,371.5 333.7,378.4 333.7,381.1 C333.7,383.8 333.6,384.1 333.0,385.5 C332.4,386.9 331.4,386.9 330.1,389.3 C328.8,391.7 327.0,396.8 325.4,399.9 C323.8,403.0 322.8,405.5 320.7,408.0 C318.6,410.5 315.3,413.1 312.6,415.0 C309.9,416.9 307.3,418.5 304.4,419.7 C301.5,420.9 297.4,421.4 295.0,422.1 C292.6,422.8 290.8,423.5 290.0,423.8"/>
<path d="M290.0,423.8 C292.8,422.3 302.8,417.4 306.7,415.0 C310.6,412.6 311.5,411.7 313.7,409.2 C315.9,406.7 317.7,402.8 319.6,399.9 C321.6,397.0 323.6,394.2 325.4,391.7 C327.1,389.2 328.5,386.6 330.1,384.7 C331.7,382.8 333.4,380.9 334.8,380.0 C336.2,379.1 337.8,379.9 338.8,379.6 C339.8,379.3 339.5,378.7 340.8,378.2 C342.1,377.7 344.5,377.1 346.7,376.8 C348.9,376.5 351.7,376.4 354.0,376.1 C356.3,375.9 359.3,375.2 360.5,375.3 C361.7,375.4 361.1,374.5 361.3,376.8 C361.5,379.1 361.9,385.7 361.6,389.2 C361.4,392.7 360.6,395.3 359.8,398.0 C359.0,400.7 358.3,402.6 356.9,405.3 C355.4,408.0 353.3,411.6 351.1,414.0 C348.9,416.4 346.2,418.4 343.8,419.9 C341.4,421.4 339.2,422.1 336.5,422.8 C333.8,423.5 329.2,423.6 327.8,423.8"/>
<path d="M327.8,423.8 C329.0,422.9 332.1,421.5 334.8,418.6 C337.5,415.8 341.1,409.9 343.8,406.7 C346.5,403.5 348.9,401.6 351.1,399.4 C353.3,397.2 355.2,395.3 356.9,393.6 C358.6,391.9 360.1,390.4 361.3,389.2 C362.5,388.0 362.8,387.3 364.2,386.3 C365.6,385.3 367.8,384.2 370.0,383.4 C372.2,382.6 374.9,382.0 377.3,381.6 C379.7,381.2 382.9,381.1 384.6,381.2 C386.3,381.2 387.0,380.6 387.6,381.9 C388.2,383.2 388.4,386.8 388.3,389.2 C388.2,391.6 387.7,393.8 386.8,396.5 C385.9,399.2 385.0,402.4 383.2,405.3 C381.4,408.2 378.6,411.6 375.9,414.0 C373.2,416.4 370.3,418.4 367.1,419.9 C363.9,421.4 359.8,422.1 356.9,422.8 C354.0,423.5 351.1,423.6 350.0,423.8"/>
<path d="M350.0,423.8 C353.1,422.9 364.1,420.5 368.6,418.4 C373.2,416.3 374.9,413.5 377.3,411.1 C379.7,408.7 381.5,406.2 383.2,403.8 C384.9,401.4 385.9,398.8 387.6,396.5 C389.3,394.2 391.2,391.4 393.4,389.9 C395.6,388.4 398.3,388.2 400.7,387.7 C403.1,387.2 405.8,387.1 408.0,387.0 C410.2,386.9 412.6,386.8 413.8,387.0 C415.0,387.2 415.0,387.2 415.3,388.5 C415.6,389.8 416.1,392.4 415.6,395.0 C415.1,397.6 413.9,400.9 412.4,403.8 C410.9,406.7 409.2,409.9 406.5,412.6 C403.8,415.3 399.9,418.2 396.3,419.9 C392.7,421.6 388.2,422.1 384.6,422.8 C381.1,423.5 376.6,423.6 375.0,423.8"/>
<path d="M375.0,423.8 C379.0,423.1 393.7,421.5 399.2,419.9 C404.7,418.3 405.6,416.4 408.0,414.0 C410.4,411.6 412.1,408.2 413.8,405.3 C415.5,402.4 416.7,398.7 418.2,396.5 C419.7,394.3 420.9,393.1 422.6,392.1 C424.3,391.1 426.3,391.0 428.4,390.7 C430.5,390.4 433.1,390.3 435.0,390.2 C436.9,390.1 438.5,389.9 439.6,390.2 C440.7,390.4 441.1,390.3 441.4,391.7 C441.7,393.1 441.7,396.0 441.4,398.3 C441.1,400.6 440.6,403.2 439.6,405.6 C438.6,408.0 436.9,410.7 435.2,412.9 C433.5,415.1 431.9,417.2 429.4,418.7 C426.9,420.2 424.1,420.9 420.0,421.8 C415.9,422.7 407.5,423.5 405.0,423.8"/>
<path d="M405.0,423.8 C407.5,423.3 415.7,424.0 420.0,421.0 C424.3,418.0 428.0,408.9 430.8,405.6 C433.6,402.3 435.0,402.7 436.7,401.2 C438.4,399.7 439.7,397.9 441.1,396.8 C442.6,395.7 443.5,395.1 445.4,394.6 C447.3,394.1 450.0,394.0 452.7,393.9 C455.4,393.8 459.7,393.9 461.5,394.2 C463.3,394.4 463.3,394.2 463.7,395.4 C464.1,396.6 464.5,399.3 464.1,401.2 C463.7,403.1 462.9,404.8 461.5,407.0 C460.1,409.2 458.1,412.1 455.7,414.3 C453.3,416.5 450.1,418.9 446.9,420.2 C443.7,421.5 439.5,421.8 436.7,422.4 C433.9,423.0 431.1,423.6 430.0,423.8"/>
<path d="M430.0,423.8 C432.8,422.9 442.9,420.3 446.9,418.7 C450.9,417.1 452.0,416.0 454.2,414.3 C456.4,412.6 458.3,410.2 460.0,408.5 C461.7,406.8 462.9,405.4 464.4,404.1 C465.9,402.8 467.1,401.4 468.8,400.5 C470.5,399.6 472.2,399.1 474.6,398.7 C477.0,398.3 481.0,398.4 483.4,398.3 C485.8,398.2 487.9,398.1 489.2,398.3 C490.5,398.5 490.6,398.7 491.0,399.7 C491.4,400.7 491.7,402.5 491.4,404.1 C491.1,405.7 490.5,407.2 489.2,409.2 C487.9,411.1 485.8,414.0 483.4,415.8 C481.0,417.6 478.0,419.1 474.6,420.2 C471.2,421.3 466.3,421.8 463.0,422.4 C459.7,423.0 456.3,423.6 455.0,423.8"/>
<path d="M455.0,423.8 C458.0,423.2 468.7,421.5 473.2,420.2 C477.7,418.9 479.5,417.4 481.9,415.8 C484.3,414.2 486.1,412.3 487.8,410.7 C489.5,409.1 490.8,407.5 492.2,406.3 C493.6,405.1 494.8,404.2 496.5,403.4 C498.2,402.5 500.2,401.7 502.4,401.2 C504.6,400.7 507.6,400.6 509.7,400.5 C511.8,400.4 513.6,400.3 514.8,400.5 C516.0,400.7 516.3,400.9 516.7,401.9 C517.1,402.9 517.4,404.7 517.0,406.3 C516.6,407.9 515.8,409.6 514.1,411.4 C512.4,413.2 509.7,415.7 506.8,417.3 C503.9,418.9 499.9,420.0 496.5,420.9 C493.1,421.8 489.4,422.3 486.3,422.8 C483.2,423.3 479.4,423.6 478.0,423.8"/>
<path d="M478.0,423.8 C481.8,423.2 495.6,421.5 500.9,420.2 C506.2,418.9 507.3,417.3 509.7,415.8 C512.1,414.3 513.8,412.9 515.5,411.4 C517.2,409.9 518.7,408.1 519.9,407.0 C521.1,405.9 521.2,405.4 522.8,404.8 C524.4,404.2 527.2,403.5 529.6,403.1 C532.0,402.7 535.0,402.6 536.9,402.6 C538.8,402.7 540.1,402.8 541.0,403.4 C541.9,404.0 541.9,405.2 542.0,406.3 C542.1,407.4 542.2,408.7 541.6,409.9 C541.0,411.1 539.9,412.2 538.4,413.6 C536.9,415.0 534.7,416.7 532.5,418.0 C530.3,419.3 527.6,420.8 525.2,421.6 C522.8,422.5 520.4,422.7 517.9,423.1 C515.4,423.5 511.3,423.7 510.0,423.8"/>
<path d="M222.0,423.4 L520.0,423.4"/>
</g>
</svg>
</body></html>
